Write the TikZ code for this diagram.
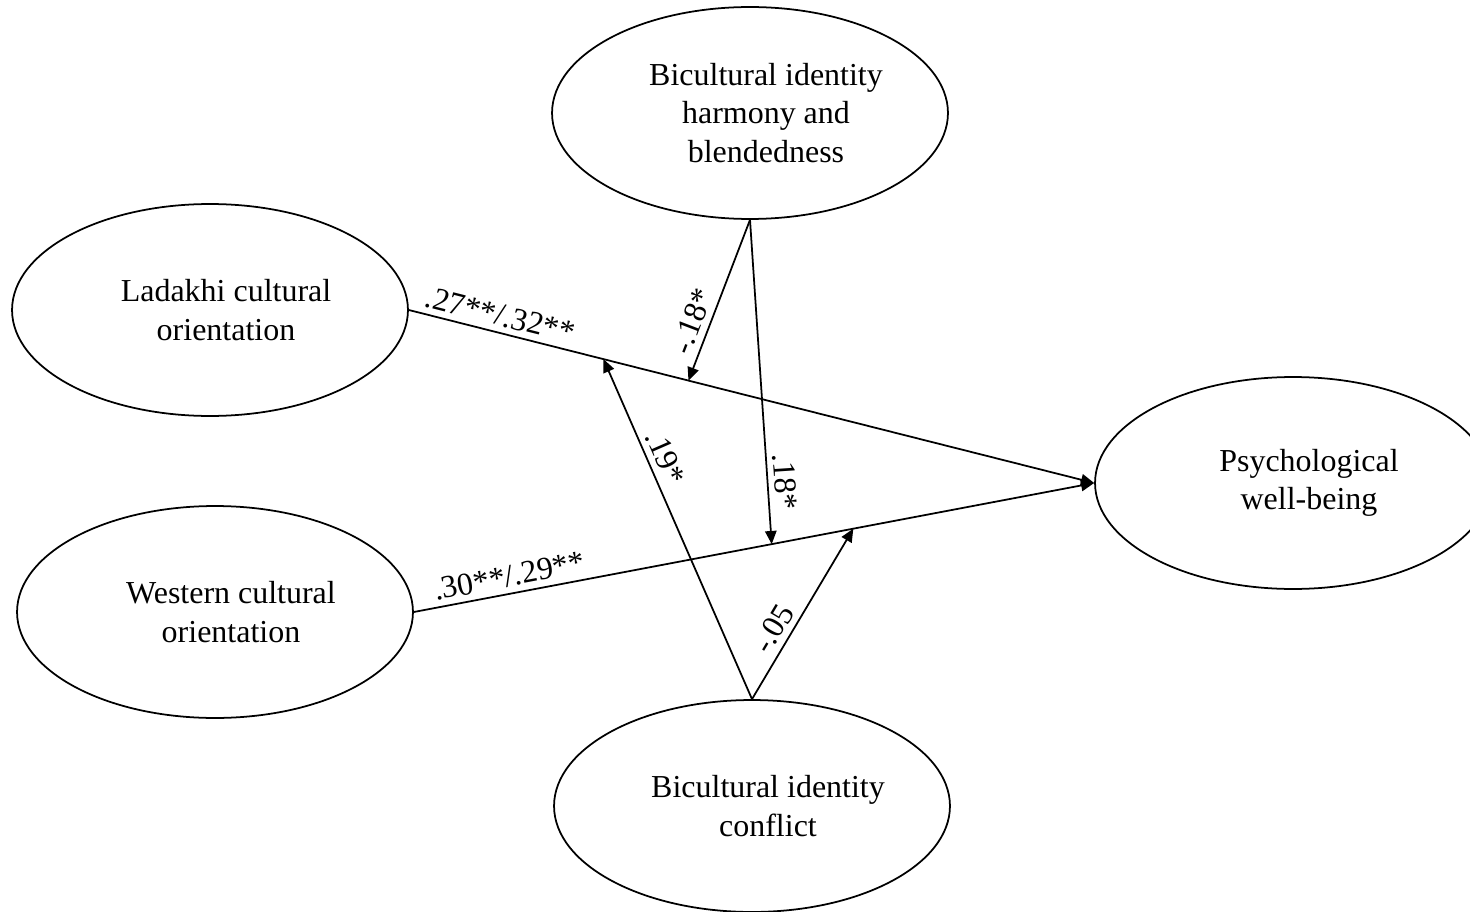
\documentclass[tikz,border=0pt]{standalone}
\usepackage{fontspec}
\setmainfont{Liberation Serif}
\usetikzlibrary{arrows.meta,shapes.geometric,calc}

\begin{document}
\begin{tikzpicture}[x=0.02cm, y=-0.02cm, >={Triangle[length=7.5pt,width=6.5pt]},
    every node/.style={font=\fontsize{18.2}{21.9}\selectfont},
    latent/.style={ellipse,draw,line width=1pt,minimum width=7.92cm,minimum height=4.24cm,inner sep=0pt},
    vtext/.style={align=center,xshift=0.32cm},
    effect/.style={->,line width=1pt},
    coef/.style={sloped,above}]
  \useasboundingbox (0,0) rectangle (1470,912);
  \clip (0,0) rectangle (1470,912);
  % latent variables
  \node[latent,label={[vtext]center:Bicultural identity\\harmony and\\blendedness}] (hbl) at (750,113) {};
  \node[latent,label={[vtext]center:Ladakhi cultural\\orientation}] (lad) at (210,310) {};
  \node[latent,label={[vtext]center:Western cultural\\orientation}] (wco) at (215,612) {};
  \node[latent,label={[vtext]center:Psychological\\well-being}] (pwb) at (1293,483) {};
  \node[latent,label={[vtext]center:Bicultural identity\\conflict}] (bic) at (752,806) {};
  % points on the main paths
  \coordinate (l1) at ($(lad.east)!0.284!(pwb.west)$);
  \coordinate (l2) at ($(lad.east)!0.408!(pwb.west)$);
  \coordinate (w1) at ($(wco.east)!0.526!(pwb.west)$);
  \coordinate (w2) at ($(wco.east)!0.646!(pwb.west)$);
  % main paths
  \draw[effect] (lad.east) -- node[coef,pos=0.127] {.27**/.32**} (pwb.west);
  \draw[effect] (wco.east) -- node[coef,pos=0.145] {.30**/.29**} (pwb.west);
  % moderation
  \draw[effect] (hbl.south) -- node[coef,pos=0.67] {-.18*} (l2);
  \draw[effect] (hbl.south) -- node[coef,pos=0.81] {.18*} (w1);
  \draw[effect] (bic.north) -- node[coef,pos=0.69] {.19*} (l1);
  \draw[effect] (bic.north) -- node[coef,pos=0.36] {-.05} (w2);
\end{tikzpicture}
\end{document}
